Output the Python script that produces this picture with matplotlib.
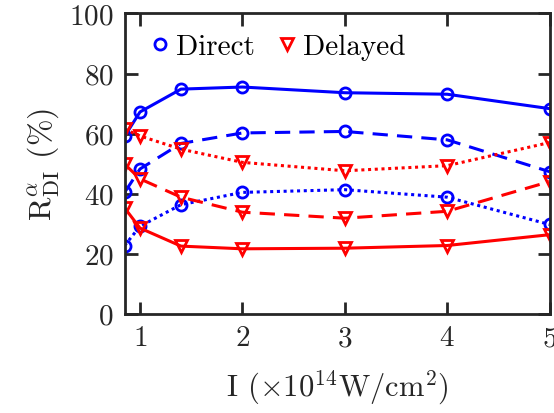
import numpy as np
import matplotlib
matplotlib.use("Agg")
import matplotlib.pyplot as plt

plt.rcParams['font.family'] = 'serif'
plt.rcParams['font.serif'] = ['cmr10']
plt.rcParams['mathtext.fontset'] = 'cm'
plt.rcParams['axes.formatter.use_mathtext'] = True

# intensity (x 10^14 W/cm^2)
I = [0.85, 1.0, 1.4, 2.0, 3.0, 4.0, 5.0]

# direct ionization ratio (blue, circles)
direct_solid = [59.1, 67.2, 74.8, 75.5, 73.6, 73.1, 68.3]
direct_dash = [40.4, 48.2, 56.7, 60.2, 60.7, 57.9, 47.3]
direct_dot = [22.7, 29.1, 36.3, 40.4, 41.3, 38.8, 29.7]

# delayed ionization ratio (red, triangles)
delayed_solid = [35.2, 28.5, 22.5, 21.6, 21.8, 22.7, 26.3]
delayed_dash = [49.8, 44.9, 38.8, 33.8, 31.8, 34.1, 44.0]
delayed_dot = [61.5, 59.2, 54.8, 50.4, 47.6, 49.3, 57.0]

fig = plt.figure(figsize=(5.54, 4.14), dpi=100)
ax = fig.add_axes([0.225, 0.24, 0.767, 0.725])

lw = 2.2
ms = 8
mew = 2.0
kw_b = dict(color='blue', marker='o', ms=ms, mfc='none', mew=mew, lw=lw)
kw_r = dict(color='red', marker='v', ms=ms, mfc='none', mew=mew, lw=lw)

ax.plot(I, direct_solid, ls='-', **kw_b)
ax.plot(I, direct_dash, ls=(0, (5, 3)), **kw_b)
ax.plot(I, direct_dot, ls=(0, (1, 1.2)), **kw_b)
ax.plot(I, delayed_solid, ls='-', **kw_r)
ax.plot(I, delayed_dash, ls=(0, (5, 3)), **kw_r)
ax.plot(I, delayed_dot, ls=(0, (1, 1.2)), **kw_r)

hb, = ax.plot([], [], ls='none', **kw_b)
hr, = ax.plot([], [], ls='none', **kw_r)
ax.legend([hb, hr], ['Direct', 'Delayed'], loc='upper left', ncol=2,
          frameon=False, fontsize=21, handletextpad=0.05, columnspacing=0.6,
          handlelength=1.0, borderaxespad=0.3, bbox_to_anchor=(0.0, 1.0))

ax.set_xlim(0.85, 5)
ax.set_ylim(0, 100)
ax.set_xticks([1, 2, 3, 4, 5])
ax.set_yticks([0, 20, 40, 60, 80, 100])
ax.tick_params(direction='in', length=9, width=2.0, top=True, right=True,
               labelsize=21, colors='#262626', labelcolor='#262626', pad=8)
for s in ax.spines.values():
    s.set_linewidth(2.0)
    s.set_color('#262626')

ax.set_xlabel(r'I ($\times 10^{14}$W/cm$^2$)', fontsize=22, color='#262626', labelpad=12)
ax.set_ylabel(r'$\mathrm{R}^{\alpha}_{\mathrm{DI}}$ (%)', fontsize=23, color='#262626', labelpad=6)

fig.savefig('out.png', dpi=100)
